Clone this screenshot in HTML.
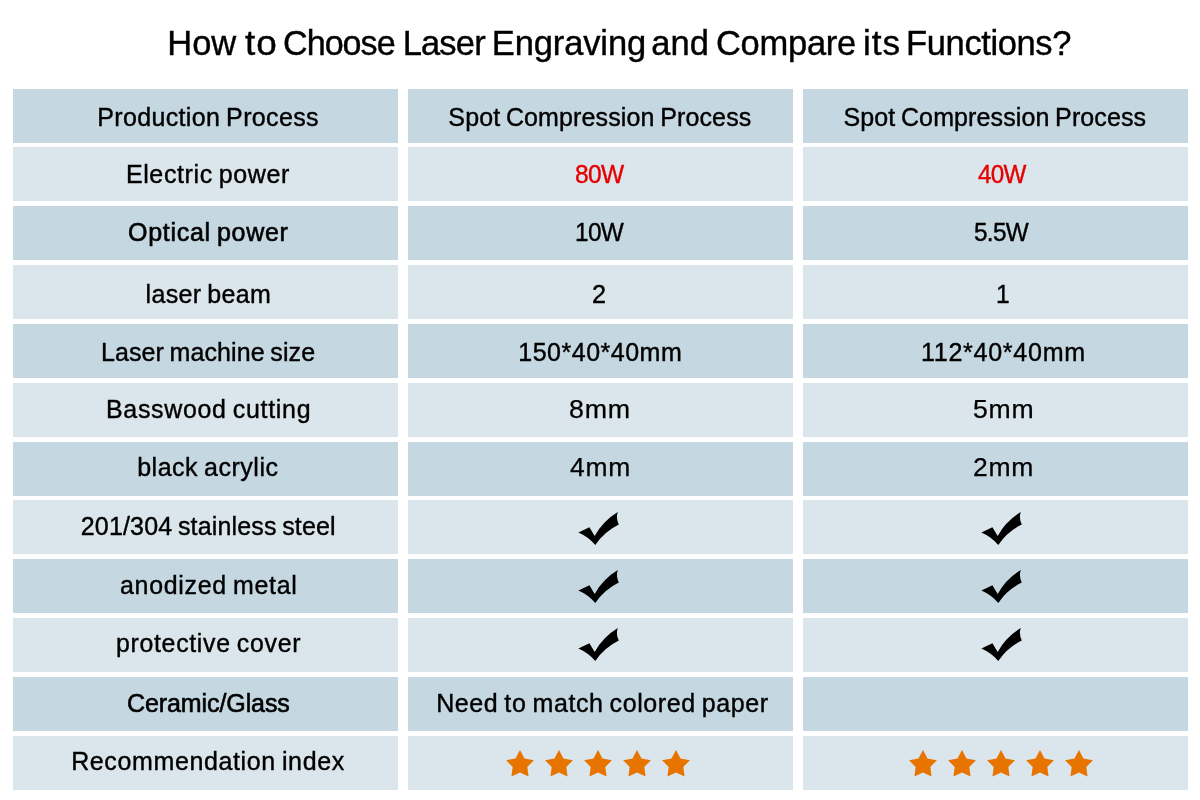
<!DOCTYPE html>
<html lang="en">
<head>
<meta charset="utf-8">
<title>How to Choose Laser Engraving and Compare its Functions?</title>
<style>
html,body{margin:0;padding:0;background:#fff;}
body{width:1200px;height:800px;position:relative;overflow:hidden;font-family:"Liberation Sans",sans-serif;color:#000;}
.c{position:absolute;height:54px;width:385px;}
.d{background:#c5d7e1;}.l{background:#dbe6ec;}
h1{margin:0;padding:0;font-size:34px;font-weight:400;position:absolute;left:0;top:0;width:1200px;height:80px;}
.t{position:absolute;display:block;transform-origin:0 50%;white-space:nowrap;line-height:40px;height:40px;margin:0;font-weight:400;-webkit-text-stroke:0.4px currentColor;}
svg{position:absolute;left:0;top:0;}
</style>
</head>
<body>
<div class="c d" style="left:13px;top:89px"></div>
<div class="c d" style="left:408px;top:89px"></div>
<div class="c d" style="left:803px;top:89px"></div>
<div class="c l" style="left:13px;top:147px"></div>
<div class="c l" style="left:408px;top:147px"></div>
<div class="c l" style="left:803px;top:147px"></div>
<div class="c d" style="left:13px;top:206px"></div>
<div class="c d" style="left:408px;top:206px"></div>
<div class="c d" style="left:803px;top:206px"></div>
<div class="c l" style="left:13px;top:265px"></div>
<div class="c l" style="left:408px;top:265px"></div>
<div class="c l" style="left:803px;top:265px"></div>
<div class="c d" style="left:13px;top:324px"></div>
<div class="c d" style="left:408px;top:324px"></div>
<div class="c d" style="left:803px;top:324px"></div>
<div class="c l" style="left:13px;top:383px"></div>
<div class="c l" style="left:408px;top:383px"></div>
<div class="c l" style="left:803px;top:383px"></div>
<div class="c d" style="left:13px;top:442px"></div>
<div class="c d" style="left:408px;top:442px"></div>
<div class="c d" style="left:803px;top:442px"></div>
<div class="c l" style="left:13px;top:500px"></div>
<div class="c l" style="left:408px;top:500px"></div>
<div class="c l" style="left:803px;top:500px"></div>
<div class="c d" style="left:13px;top:559px"></div>
<div class="c d" style="left:408px;top:559px"></div>
<div class="c d" style="left:803px;top:559px"></div>
<div class="c l" style="left:13px;top:618px"></div>
<div class="c l" style="left:408px;top:618px"></div>
<div class="c l" style="left:803px;top:618px"></div>
<div class="c d" style="left:13px;top:677px"></div>
<div class="c d" style="left:408px;top:677px"></div>
<div class="c d" style="left:803px;top:677px"></div>
<div class="c l" style="left:13px;top:736px"></div>
<div class="c l" style="left:408px;top:736px"></div>
<div class="c l" style="left:803px;top:736px"></div>
<h1 id="t0">
<span class="t" id="t0w0" style="left:167.31px;top:22.95px;font-size:34.5px;letter-spacing:-0.066px;-webkit-text-stroke-width:0.4px;">How</span>
<span class="t" id="t0w1" style="left:244.99px;top:22.95px;font-size:34.5px;letter-spacing:1.000px;transform:scaleX(1.0716);-webkit-text-stroke-width:0.4px;">to</span>
<span class="t" id="t0w2" style="left:282.86px;top:22.95px;font-size:34.5px;letter-spacing:-1.000px;transform:scaleX(0.9887);-webkit-text-stroke-width:0.4px;">Choose</span>
<span class="t" id="t0w3" style="left:402.68px;top:22.95px;font-size:34.5px;letter-spacing:-0.839px;-webkit-text-stroke-width:0.4px;">Laser</span>
<span class="t" id="t0w4" style="left:491.76px;top:22.95px;font-size:34.5px;letter-spacing:-0.120px;-webkit-text-stroke-width:0.4px;">Engraving</span>
<span class="t" id="t0w5" style="left:651.25px;top:22.95px;font-size:34.5px;letter-spacing:0.046px;-webkit-text-stroke-width:0.4px;">and</span>
<span class="t" id="t0w6" style="left:715.90px;top:22.95px;font-size:34.5px;letter-spacing:-0.253px;-webkit-text-stroke-width:0.4px;">Compare</span>
<span class="t" id="t0w7" style="left:862.91px;top:22.95px;font-size:34.5px;letter-spacing:1.000px;transform:scaleX(1.0193);-webkit-text-stroke-width:0.4px;">its</span>
<span class="t" id="t0w8" style="left:906.09px;top:22.95px;font-size:34.5px;letter-spacing:-0.379px;-webkit-text-stroke-width:0.4px;">Functions?</span>
</h1>
<div class="t" id="a1" style="left:97.23px;top:97.04px;font-size:25px;letter-spacing:0.357px;word-spacing:-1.5px;">Production Process</div>
<div class="t" id="a2" style="left:125.92px;top:154.04px;font-size:25px;letter-spacing:0.613px;word-spacing:-1.5px;">Electric power</div>
<div class="t" id="a3" style="left:127.73px;top:211.94px;font-size:25px;letter-spacing:0.700px;word-spacing:-1.5px;transform:scaleX(1.0011);-webkit-text-stroke-width:0.6px;">Optical power</div>
<div class="t" id="a4" style="left:145.50px;top:273.84px;font-size:25px;letter-spacing:0.356px;word-spacing:-1.5px;">laser beam</div>
<div class="t" id="a5" style="left:101.00px;top:332.09px;font-size:25px;letter-spacing:0.097px;word-spacing:-1.5px;">Laser machine size</div>
<div class="t" id="a6" style="left:106.27px;top:388.84px;font-size:25px;letter-spacing:0.700px;word-spacing:-1.5px;transform:scaleX(0.9979);">Basswood cutting</div>
<div class="t" id="a7" style="left:137.15px;top:446.84px;font-size:25px;letter-spacing:0.519px;word-spacing:-1.5px;">black acrylic</div>
<div class="t" id="a8" style="left:80.80px;top:505.84px;font-size:25px;letter-spacing:0.160px;word-spacing:-1.5px;">201/304 stainless steel</div>
<div class="t" id="a9" style="left:119.83px;top:564.59px;font-size:25px;letter-spacing:0.700px;word-spacing:-1.5px;transform:scaleX(0.9978);">anodized metal</div>
<div class="t" id="a10" style="left:115.97px;top:622.59px;font-size:25px;letter-spacing:0.700px;word-spacing:-1.5px;transform:scaleX(0.9944);">protective cover</div>
<div class="t" id="a11" style="left:126.93px;top:683.04px;font-size:25px;letter-spacing:-0.082px;-webkit-text-stroke-width:0.6px;">Ceramic/Glass</div>
<div class="t" id="a12" style="left:71.17px;top:740.59px;font-size:25px;letter-spacing:0.626px;word-spacing:-1.5px;">Recommendation index</div>
<div class="t" id="b1" style="left:448.37px;top:96.74px;font-size:25px;letter-spacing:0.131px;word-spacing:-1.5px;">Spot Compression Process</div>
<div class="t" id="b2" style="left:575.42px;top:154.04px;font-size:25px;letter-spacing:-0.700px;transform:scaleX(0.9809);color:#e60000;">80W</div>
<div class="t" id="b3" style="left:574.95px;top:211.54px;font-size:25px;letter-spacing:-0.700px;transform:scaleX(0.9757);">10W</div>
<div class="t" id="b4" style="left:592.24px;top:274.24px;font-size:25px;letter-spacing:0.000px;transform:scaleX(1.0094);">2</div>
<div class="t" id="b5" style="left:518.32px;top:331.84px;font-size:25px;letter-spacing:0.499px;">150*40*40mm</div>
<div class="t" id="b6" style="left:569.04px;top:388.84px;font-size:25px;letter-spacing:0.700px;transform:scaleX(1.0732);-webkit-text-stroke-width:0.25px;">8mm</div>
<div class="t" id="b7" style="left:570.07px;top:446.74px;font-size:25px;letter-spacing:0.700px;transform:scaleX(1.0576);-webkit-text-stroke-width:0.25px;">4mm</div>
<div class="t" id="b11" style="left:436.17px;top:682.84px;font-size:25px;letter-spacing:0.601px;word-spacing:-1.5px;">Need to match colored paper</div>
<div class="t" id="c1" style="left:843.46px;top:96.74px;font-size:25px;letter-spacing:0.120px;word-spacing:-1.5px;">Spot Compression Process</div>
<div class="t" id="c2" style="left:978.22px;top:154.04px;font-size:25px;letter-spacing:-0.700px;transform:scaleX(0.9701);color:#e60000;">40W</div>
<div class="t" id="c3" style="left:974.40px;top:211.54px;font-size:25px;letter-spacing:-0.700px;transform:scaleX(0.9729);">5.5W</div>
<div class="t" id="c4" style="left:996.11px;top:274.24px;font-size:25px;letter-spacing:0.000px;transform:scaleX(0.9816);">1</div>
<div class="t" id="c5" style="left:920.83px;top:331.84px;font-size:25px;letter-spacing:0.700px;transform:scaleX(1.0034);">112*40*40mm</div>
<div class="t" id="c6" style="left:973.12px;top:388.84px;font-size:25px;letter-spacing:0.700px;transform:scaleX(1.0631);-webkit-text-stroke-width:0.25px;">5mm</div>
<div class="t" id="c7" style="left:972.60px;top:446.74px;font-size:25px;letter-spacing:0.700px;transform:scaleX(1.0605);-webkit-text-stroke-width:0.25px;">2mm</div>
<svg width="1200" height="800" viewBox="0 0 1200 800">
<path fill="#000" transform="translate(0,0)" d="M578.4 532.4 L589.4 527.2 L594.7 535.9 Q603 520.9 617.8 512 Q615.6 518.3 618.8 524.4 Q604.3 531.5 595.3 544.9 Q588.3 536.7 578.4 532.4Z"/>
<path fill="#000" transform="translate(0,58)" d="M578.4 532.4 L589.4 527.2 L594.7 535.9 Q603 520.9 617.8 512 Q615.6 518.3 618.8 524.4 Q604.3 531.5 595.3 544.9 Q588.3 536.7 578.4 532.4Z"/>
<path fill="#000" transform="translate(0,116)" d="M578.4 532.4 L589.4 527.2 L594.7 535.9 Q603 520.9 617.8 512 Q615.6 518.3 618.8 524.4 Q604.3 531.5 595.3 544.9 Q588.3 536.7 578.4 532.4Z"/>
<path fill="#000" transform="translate(403,0)" d="M578.4 532.4 L589.4 527.2 L594.7 535.9 Q603 520.9 617.8 512 Q615.6 518.3 618.8 524.4 Q604.3 531.5 595.3 544.9 Q588.3 536.7 578.4 532.4Z"/>
<path fill="#000" transform="translate(403,58)" d="M578.4 532.4 L589.4 527.2 L594.7 535.9 Q603 520.9 617.8 512 Q615.6 518.3 618.8 524.4 Q604.3 531.5 595.3 544.9 Q588.3 536.7 578.4 532.4Z"/>
<path fill="#000" transform="translate(403,116)" d="M578.4 532.4 L589.4 527.2 L594.7 535.9 Q603 520.9 617.8 512 Q615.6 518.3 618.8 524.4 Q604.3 531.5 595.3 544.9 Q588.3 536.7 578.4 532.4Z"/>
<polygon fill="#e87400" points="520.00,750.10 524.53,758.47 533.89,760.19 527.32,767.08 528.58,776.51 520.00,772.40 511.42,776.51 512.68,767.08 506.11,760.19 515.47,758.47"/>
<polygon fill="#e87400" points="559.00,750.10 563.53,758.47 572.89,760.19 566.32,767.08 567.58,776.51 559.00,772.40 550.42,776.51 551.68,767.08 545.11,760.19 554.47,758.47"/>
<polygon fill="#e87400" points="598.00,750.10 602.53,758.47 611.89,760.19 605.32,767.08 606.58,776.51 598.00,772.40 589.42,776.51 590.68,767.08 584.11,760.19 593.47,758.47"/>
<polygon fill="#e87400" points="637.00,750.10 641.53,758.47 650.89,760.19 644.32,767.08 645.58,776.51 637.00,772.40 628.42,776.51 629.68,767.08 623.11,760.19 632.47,758.47"/>
<polygon fill="#e87400" points="676.00,750.10 680.53,758.47 689.89,760.19 683.32,767.08 684.58,776.51 676.00,772.40 667.42,776.51 668.68,767.08 662.11,760.19 671.47,758.47"/>
<polygon fill="#e87400" points="923.00,750.10 927.53,758.47 936.89,760.19 930.32,767.08 931.58,776.51 923.00,772.40 914.42,776.51 915.68,767.08 909.11,760.19 918.47,758.47"/>
<polygon fill="#e87400" points="962.00,750.10 966.53,758.47 975.89,760.19 969.32,767.08 970.58,776.51 962.00,772.40 953.42,776.51 954.68,767.08 948.11,760.19 957.47,758.47"/>
<polygon fill="#e87400" points="1001.00,750.10 1005.53,758.47 1014.89,760.19 1008.32,767.08 1009.58,776.51 1001.00,772.40 992.42,776.51 993.68,767.08 987.11,760.19 996.47,758.47"/>
<polygon fill="#e87400" points="1040.00,750.10 1044.53,758.47 1053.89,760.19 1047.32,767.08 1048.58,776.51 1040.00,772.40 1031.42,776.51 1032.68,767.08 1026.11,760.19 1035.47,758.47"/>
<polygon fill="#e87400" points="1079.00,750.10 1083.53,758.47 1092.89,760.19 1086.32,767.08 1087.58,776.51 1079.00,772.40 1070.42,776.51 1071.68,767.08 1065.11,760.19 1074.47,758.47"/>
</svg>
</body>
</html>
